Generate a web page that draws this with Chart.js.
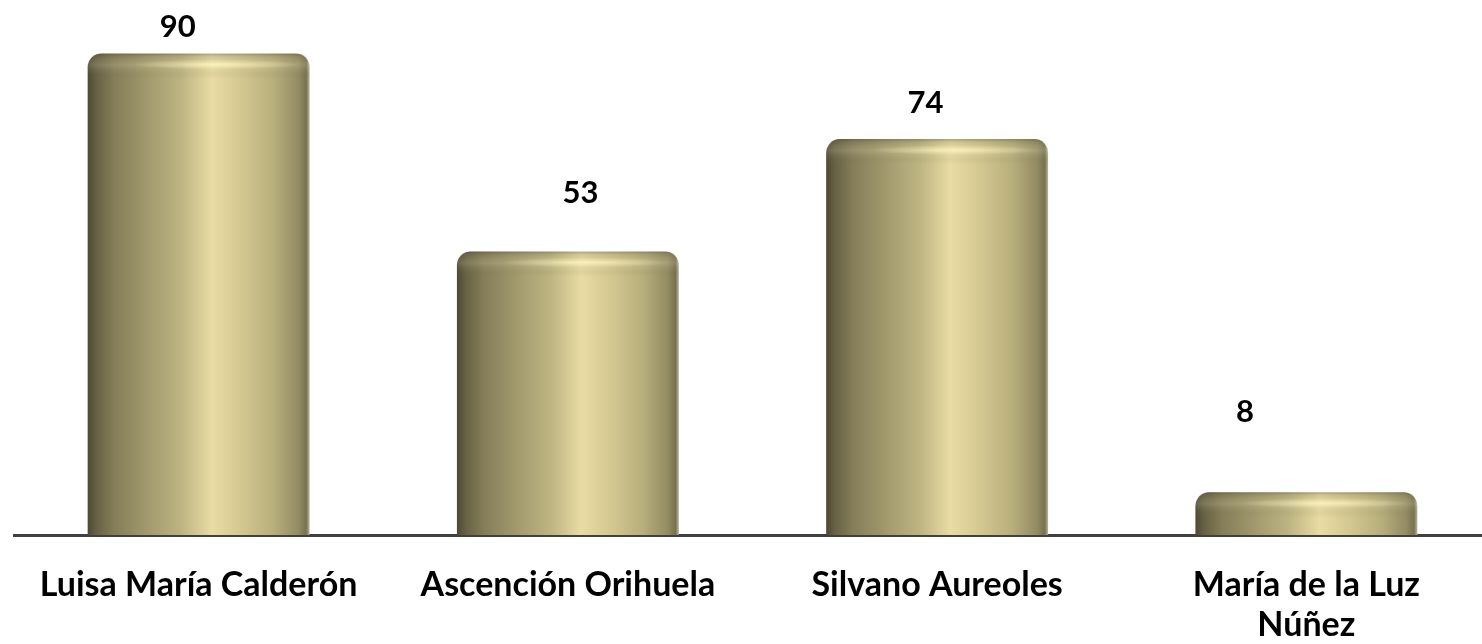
<!DOCTYPE html>
<html>
<head>
<meta charset="utf-8">
<script src="https://cdn.jsdelivr.net/npm/chart.js@4"></script>
<style>
  html, body { margin: 0; padding: 0; background: #ffffff; overflow: hidden; }
  #wrap { width: 1482px; height: 644px; overflow: hidden; position: relative; }
  canvas { display: block; }
</style>
</head>
<body>
<div id="wrap"><canvas id="c" width="1491" height="644"></canvas></div>
<script>
// ---- data ----
const categories = [
  "Luisa María Calderón",
  "Ascención Orihuela",
  "Silvano Aureoles",
  ["María de la Luz", "Núñez"]
];
const votes = [90, 53, 74, 8];
const valueLabels = ["90", "53", "74", "8"];
const yMin = 0;
const yMax = 100;

// ---- styling ----
const FONT = "Lato, 'Open Sans', 'DejaVu Sans', sans-serif";
const BAR_PCT = 0.601;
// label placement relative to bar top-centre (px), as in the reference
const labelOffsets = [[-21, -16.5], [12.6, -48.4], [-11.6, -26], [-61.4, -70.2]];

function columnGradient(ctx, left, width) {
  const g = ctx.createLinearGradient(left, 0, left + width, 0);
  g.addColorStop(0.00, '#4c4833');
  g.addColorStop(0.04, '#676245');
  g.addColorStop(0.12, '#847d58');
  g.addColorStop(0.28, '#a49c6f');
  g.addColorStop(0.42, '#bdb482');
  g.addColorStop(0.56, '#e9dca4');
  g.addColorStop(0.70, '#d3c790');
  g.addColorStop(0.84, '#b7ae7c');
  g.addColorStop(0.95, '#938c63');
  g.addColorStop(0.985, '#77724f');
  g.addColorStop(1.00, '#b8b4a0');
  return g;
}

function barFill(context) {
  const chart = context.chart;
  const area = chart.chartArea;
  const xs = chart.scales && chart.scales.x;
  if (!area || !xs || context.dataIndex === undefined) return '#c8bd88';
  const cx = xs.getPixelForValue(context.dataIndex);
  const w = (area.right - area.left) / categories.length * BAR_PCT;
  return columnGradient(chart.ctx, cx - w / 2, w);
}

const barStyle = {
  id: 'barStyle',
  afterDatasetsDraw(chart) {
    const ctx = chart.ctx;
    chart.getDatasetMeta(0).data.forEach(el => {
      const w = el.width, left = el.x - w / 2, top = el.y, h = el.base - el.y;
      const r = 14;
      ctx.save();
      ctx.beginPath();
      ctx.moveTo(left, el.base);
      ctx.lineTo(left, top + r);
      ctx.quadraticCurveTo(left, top, left + r, top);
      ctx.lineTo(left + w - r, top);
      ctx.quadraticCurveTo(left + w, top, left + w, top + r);
      ctx.lineTo(left + w, el.base);
      ctx.closePath();
      ctx.clip();
      // cap shading
      const capH = Math.min(26, h);
      const vg = ctx.createLinearGradient(0, top, 0, top + capH);
      vg.addColorStop(0, 'rgba(70,66,45,0.40)');
      vg.addColorStop(0.12, 'rgba(120,114,80,0.20)');
      vg.addColorStop(0.45, 'rgba(255,250,215,0.15)');
      vg.addColorStop(0.8, 'rgba(120,114,80,0.08)');
      vg.addColorStop(1, 'rgba(120,114,80,0)');
      ctx.fillStyle = vg;
      ctx.fillRect(left, top, w, capH);
      // elliptical highlight on the cap
      ctx.translate(el.x + w * 0.08, top + 11);
      ctx.scale(1, 0.06);
      const rg = ctx.createRadialGradient(0, 0, 0, 0, 0, w * 0.38);
      rg.addColorStop(0, 'rgba(255,246,190,0.75)');
      rg.addColorStop(0.5, 'rgba(255,246,190,0.3)');
      rg.addColorStop(1, 'rgba(255,246,190,0)');
      ctx.fillStyle = rg;
      ctx.beginPath();
      ctx.arc(0, 0, w * 0.38, 0, Math.PI * 2);
      ctx.fill();
      ctx.restore();
    });
    // value labels
    ctx.save();
    ctx.font = "bold 31px " + FONT;
    ctx.fillStyle = '#000000';
    ctx.textAlign = 'center';
    ctx.textBaseline = 'alphabetic';
    chart.getDatasetMeta(0).data.forEach((el, i) => {
      const o = labelOffsets[i];
      ctx.fillText(valueLabels[i], el.x + o[0], el.y + o[1]);
    });
    ctx.restore();
  }
};

new Chart(document.getElementById('c'), {
  type: 'bar',
  data: {
    labels: categories,
    datasets: [{
      data: votes,
      backgroundColor: barFill,
      borderWidth: 0,
      borderRadius: { topLeft: 14, topRight: 14, bottomLeft: 0, bottomRight: 0 },
      borderSkipped: 'bottom',
      barPercentage: BAR_PCT,
      categoryPercentage: 1.0
    }]
  },
  options: {
    responsive: false,
    animation: false,
    devicePixelRatio: 1,
    layout: { padding: { left: 14, right: 0, top: 0, bottom: 0 } },
    plugins: { legend: { display: false }, tooltip: { enabled: false } },
    scales: {
      x: {
        z: 1,
        grid: { display: false, drawTicks: false },
        border: { display: true, color: '#404040', width: 3 },
        ticks: {
          color: '#000000',
          font: { family: FONT, size: 34, weight: 'bold', lineHeight: 1.18 },
          padding: 30,
          maxRotation: 0,
          autoSkip: false
        },
        afterFit(scale) { scale.height = 109; }
      },
      y: {
        display: false,
        min: yMin,
        max: yMax
      }
    }
  },
  plugins: [barStyle]
});
</script>
</body>
</html>
